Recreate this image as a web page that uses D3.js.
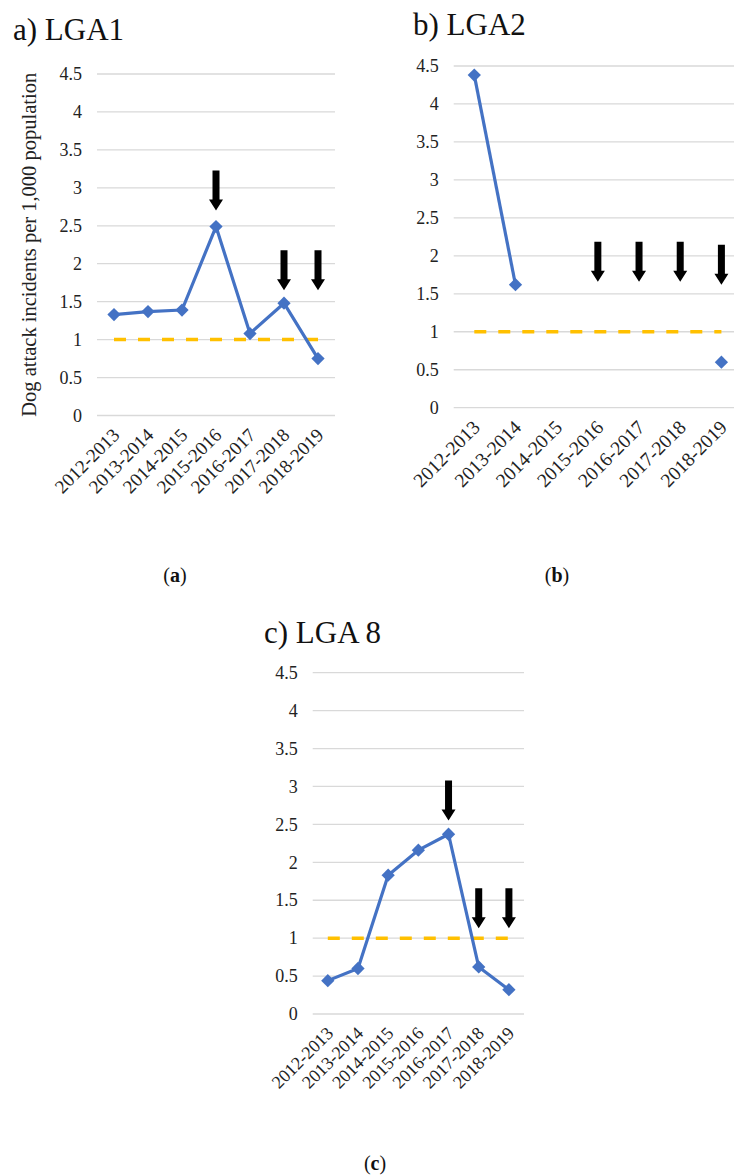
<!DOCTYPE html>
<html><head><meta charset="utf-8">
<script src="https://cdn.jsdelivr.net/npm/d3@7"></script>
<style>body{margin:0;background:#fff}svg{display:block}</style>
</head><body>
<svg id="chart" width="734" height="1176"></svg>
<script>
// ---------- data ----------
const categories = ["2012-2013","2013-2014","2014-2015","2015-2016","2016-2017","2017-2018","2018-2019"];
const yTicks = [0, 0.5, 1, 1.5, 2, 2.5, 3, 3.5, 4, 4.5];
const lga1Values = [1.33, 1.37, 1.39, 2.49, 1.08, 1.48, 0.75];
const lga2Values = [4.38, 1.62, null, null, null, null, 0.60];
const lga8Values = [0.44, 0.60, 1.83, 2.16, 2.37, 0.62, 0.32];
const thresholdValue = 1;
const lga1Arrows = [{cat: "2015-2016", tip: 2.70}, {cat: "2017-2018", tip: 1.65}, {cat: "2018-2019", tip: 1.65}];
const lga2Arrows = [{cat: "2015-2016", tip: 1.66}, {cat: "2016-2017", tip: 1.66}, {cat: "2017-2018", tip: 1.66}, {cat: "2018-2019", tip: 1.62}];
const lga8Arrows = [{cat: "2016-2017", tip: 2.55}, {cat: "2017-2018", tip: 1.13}, {cat: "2018-2019", tip: 1.13}];
const yAxisTitle = "Dog attack incidents per 1,000 population";

// ---------- layout ----------
const panels = [
  {title: "a) LGA1", values: lga1Values, arrows: lga1Arrows, caption: "a",
   x0: 97, x1: 335, yBottom: 415.5, yTop: 74, titleX: 13, titleY: 40,
   showYTitle: true, xFont: 19, capX: 175, capY: 582},
  {title: "b) LGA2", values: lga2Values, arrows: lga2Arrows, caption: "b",
   x0: 453.7, x1: 742, yBottom: 407.7, yTop: 66, titleX: 413, titleY: 35,
   showYTitle: false, xFont: 19.5, capX: 557, capY: 582},
  {title: "c) LGA 8", values: lga8Values, arrows: lga8Arrows, caption: "c",
   x0: 312.7, x1: 524, yBottom: 1014, yTop: 672.7, titleX: 264, titleY: 643,
   showYTitle: false, xFont: 18, capX: 375, capY: 1170}
];

const serif = "'Liberation Serif', 'Times New Roman', serif";
const svg = d3.select("#chart");

panels.forEach(p => {
  const g = svg.append("g");
  const x = d3.scaleBand().domain(categories).range([p.x0, p.x1]);
  const y = d3.scaleLinear().domain([0, 4.5]).range([p.yBottom, p.yTop]);
  const cx = c => x(c) + x.bandwidth() / 2;

  // gridlines
  g.append("g").selectAll("line").data(yTicks).join("line")
    .attr("x1", p.x0).attr("x2", p.x1)
    .attr("y1", d => y(d)).attr("y2", d => y(d))
    .attr("stroke", "#d9d9d9").attr("stroke-width", 1.3);

  // y axis tick labels
  const yAxis = d3.axisLeft(y).tickValues(yTicks).tickSize(0).tickPadding(15)
    .tickFormat(d => String(d));
  const ya = g.append("g").attr("transform", `translate(${p.x0},0)`).call(yAxis)
    .attr("font-family", serif).attr("font-size", 18);
  ya.select(".domain").remove();
  ya.selectAll("text").attr("fill", "#222");

  // x axis labels
  const xAxis = d3.axisBottom(x).tickSize(0).tickPadding(0);
  const xa = g.append("g").attr("transform", `translate(0,${p.yBottom})`).call(xAxis)
    .attr("font-family", serif).attr("font-size", p.xFont);
  xa.select(".domain").remove();
  xa.selectAll("text")
    .attr("fill", "#222")
    .attr("text-anchor", "end")
    .attr("dy", "0.35em").attr("y", 0)
    .attr("transform", "translate(2,16) rotate(-45)");

  // threshold dashed line
  g.append("line")
    .attr("x1", cx(categories[0])).attr("x2", cx(categories[categories.length - 1]))
    .attr("y1", y(thresholdValue)).attr("y2", y(thresholdValue))
    .attr("stroke", "#ffc000").attr("stroke-width", 3.5)
    .attr("stroke-dasharray", "12,12");

  // data line
  const pts = categories.map((c, i) => ({c, v: p.values[i]}));
  const line = d3.line().defined(d => d.v != null).x(d => cx(d.c)).y(d => y(d.v));
  g.append("path").datum(pts).attr("d", line)
    .attr("fill", "none").attr("stroke", "#4472c4").attr("stroke-width", 3.2)
    .attr("stroke-linejoin", "round");

  // diamond markers
  const sym = d3.symbol().type(d3.symbolSquare).size(88);
  g.append("g").selectAll("path").data(pts.filter(d => d.v != null)).join("path")
    .attr("d", sym)
    .attr("transform", d => `translate(${cx(d.c)},${y(d.v)}) rotate(45)`)
    .attr("fill", "#4472c4");

  // arrows
  const arrowLen = 40, headH = 11, headW = 14, shaftW = 7;
  g.append("g").selectAll("path").data(p.arrows).join("path")
    .attr("d", d => {
      const ax = cx(d.cat), ty = y(d.tip), top = ty - arrowLen;
      return `M${ax - shaftW / 2},${top}H${ax + shaftW / 2}V${ty - headH}H${ax + headW / 2}` +
             `L${ax},${ty}L${ax - headW / 2},${ty - headH}H${ax - shaftW / 2}Z`;
    })
    .attr("fill", "#000");

  // title
  g.append("text").attr("x", p.titleX).attr("y", p.titleY)
    .attr("font-family", serif).attr("font-size", 31).attr("fill", "#111")
    .text(p.title);

  // y axis title
  if (p.showYTitle) {
    g.append("text")
      .attr("transform", `translate(36,${(p.yTop + p.yBottom) / 2}) rotate(-90)`)
      .attr("text-anchor", "middle")
      .attr("font-family", serif).attr("font-size", 20.5).attr("fill", "#222")
      .text(yAxisTitle);
  }

  // caption
  const cap = g.append("text").attr("x", p.capX).attr("y", p.capY)
    .attr("text-anchor", "middle")
    .attr("font-family", serif).attr("font-size", 20).attr("fill", "#111");
  cap.append("tspan").text("(");
  cap.append("tspan").attr("font-weight", "bold").text(p.caption);
  cap.append("tspan").text(")");
});
</script>
</body></html>
